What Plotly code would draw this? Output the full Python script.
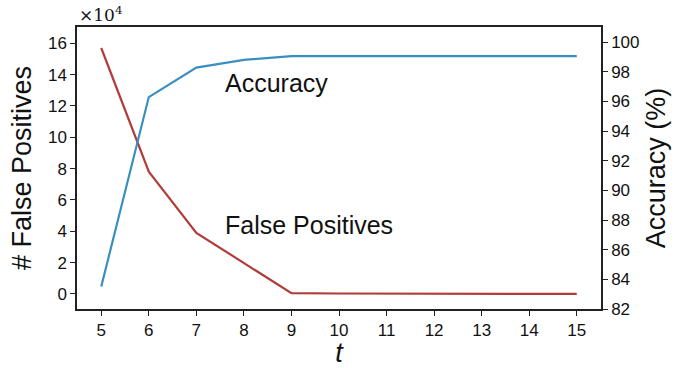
import plotly.graph_objects as go

t = [5, 6, 7, 8, 9, 10, 11, 12, 13, 14, 15]
false_pos = [15.7, 7.8, 3.9, 1.95, 0.05, 0.03, 0.02, 0.01, 0.01, 0.0, 0.0]  # x 1e4
accuracy = [83.52, 96.3, 98.29, 98.81, 99.07, 99.07, 99.07, 99.07, 99.07, 99.07, 99.07]

RED = "#b23b3b"
BLUE = "#3a8fc1"
FONT = "Liberation Sans, Arial, sans-serif"

fig = go.Figure()
fig.add_trace(go.Scatter(x=t, y=false_pos, mode="lines", line=dict(color=RED, width=2.2),
                         yaxis="y", showlegend=False))
fig.add_trace(go.Scatter(x=t, y=accuracy, mode="lines", line=dict(color=BLUE, width=2.2),
                         yaxis="y2", showlegend=False))

axis_common = dict(showline=True, linecolor="#222", linewidth=1.5, ticks="outside",
                   ticklen=5, tickcolor="#222", showgrid=False, zeroline=False, automargin=False,
                   tickfont=dict(family=FONT, size=17, color="#111"))

fig.update_layout(
    width=678, height=368,
    margin=dict(l=77, r=77, t=27, b=59),
    plot_bgcolor="white", paper_bgcolor="white",
    xaxis=dict(range=[4.49, 15.51], tickvals=t, mirror=True,
               title=dict(text="<i>t</i>", font=dict(family=FONT, size=27, color="#111"), standoff=2),
               **axis_common),
    yaxis=dict(range=[-0.96, 17.04], tickvals=[0, 2, 4, 6, 8, 10, 12, 14, 16],
               title=dict(text="# False Positives", font=dict(family=FONT, size=27, color="#111"), standoff=8),
               **axis_common),
    yaxis2=dict(range=[82, 101.03], tickvals=[82, 84, 86, 88, 90, 92, 94, 96, 98, 100],
                overlaying="y", side="right",
                title=dict(text="Accuracy (%)", font=dict(family=FONT, size=27, color="#111"), standoff=8),
                **axis_common),
    annotations=[
        dict(text="Accuracy", x=7.55, y=97.25, xref="x", yref="y2", xanchor="left", yanchor="middle",
             showarrow=False, font=dict(family=FONT, size=25, color="#111")),
        dict(text="False Positives", x=7.55, y=4.4, xref="x", yref="y", xanchor="left", yanchor="middle",
             showarrow=False, font=dict(family=FONT, size=25, color="#111")),
        dict(text="×10<sup>4</sup>", x=0, y=1.0, xref="paper", yref="paper", xanchor="left", yanchor="bottom",
             showarrow=False, font=dict(family="DejaVu Serif, serif", size=17, color="#111")),
    ],
)

fig.write_html("out.html")
